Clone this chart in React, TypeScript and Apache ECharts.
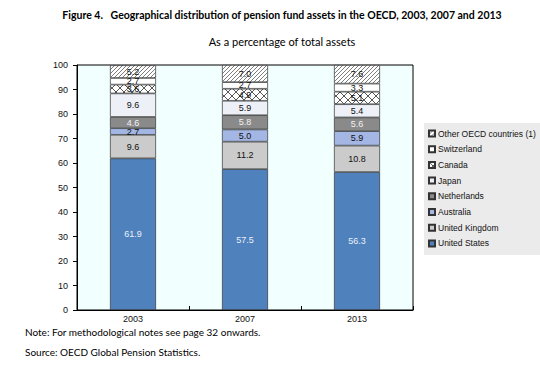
import React, { useEffect, useRef } from "react";
import * as echarts from "echarts";

const categories = ["2003", "2007", "2013"];
const unitedStates = [61.9, 57.5, 56.3];
const unitedKingdom = [9.6, 11.2, 10.8];
const australia = [2.7, 5.0, 5.9];
const netherlands = [4.6, 5.8, 5.6];
const japan = [9.6, 5.9, 5.4];
const canada = [3.6, 4.9, 5.1];
const switzerland = [2.7, 2.7, 3.3];
const otherOecd = [5.2, 7.0, 7.6];
const yTicks = { min: 0, max: 100, interval: 10 };

function makeHatch(size: number, cross: boolean, lw: number, col: string) {
  const c = document.createElement("canvas");
  c.width = size;
  c.height = size;
  const ctx = c.getContext("2d")!;
  ctx.fillStyle = "#ffffff";
  ctx.fillRect(0, 0, size, size);
  ctx.strokeStyle = col;
  ctx.lineWidth = lw;
  ctx.beginPath();
  ctx.moveTo(-1, size + 1);
  ctx.lineTo(size + 1, -1);
  ctx.moveTo(-1, 1);
  ctx.lineTo(1, -1);
  ctx.moveTo(size - 1, size + 1);
  ctx.lineTo(size + 1, size - 1);
  if (cross) {
    ctx.moveTo(-1, -1);
    ctx.lineTo(size + 1, size + 1);
    ctx.moveTo(size - 1, -1);
    ctx.lineTo(size + 1, 1);
    ctx.moveTo(-1, size - 1);
    ctx.lineTo(1, size + 1);
  }
  ctx.stroke();
  return c;
}

export default function App() {
  const ref = useRef<HTMLDivElement>(null);
  useEffect(() => {
    if (!ref.current) return;
    const chart = echarts.init(ref.current, null, { renderer: "svg" });
    const hatch = makeHatch(4, false, 0.7, "#444");
    const cross = makeHatch(8, true, 0.9, "#444");
    const hatchColor: any = { image: hatch, repeat: "repeat", imageWidth: 4, imageHeight: 4 };
    const crossColor: any = { image: cross, repeat: "repeat", imageWidth: 8, imageHeight: 8 };

    const defs: { name: string; data: number[]; color: any; label: string }[] = [
      { name: "United States", data: unitedStates, color: "#4F81BD", label: "#EAF0FA" },
      { name: "United Kingdom", data: unitedKingdom, color: "#CBCBCB", label: "#111" },
      { name: "Australia", data: australia, color: "#A3B6E4", label: "#111" },
      { name: "Netherlands", data: netherlands, color: "#8A8A8A", label: "#F2F2F2" },
      { name: "Japan", data: japan, color: "#EEF0F8", label: "#111" },
      { name: "Canada", data: canada, color: crossColor, label: "#111" },
      { name: "Switzerland", data: switzerland, color: "#FFFFFF", label: "#111" },
      { name: "Other OECD countries (1)", data: otherOecd, color: hatchColor, label: "#111" },
    ];

    const series = defs.map((d) => ({
      name: d.name,
      type: "bar",
      stack: "total",
      data: d.data,
      barWidth: 46,
      itemStyle: { color: d.color, borderColor: "#333", borderWidth: 0.7 },
      label: {
        show: true,
        position: "inside",
        color: d.label,
        fontSize: 9,
        fontFamily: "Liberation Sans, Arial",
        formatter: (p: any) => Number(p.value).toFixed(1),
      },
    }));

    chart.setOption({
      animation: false,
      textStyle: { fontFamily: "Liberation Sans, Arial" },
      grid: {
        left: 77,
        right: 127,
        top: 65,
        bottom: 56,
        show: true,
        backgroundColor: "#F2FFFF",
        borderColor: "#000",
        borderWidth: 1,
      },
      legend: {
        orient: "vertical",
        left: 424,
        top: 123,
        backgroundColor: "#EBEBEB",
        padding: [6, 6, 7, 4],
        itemWidth: 6,
        itemHeight: 6,
        itemGap: 6.7,
        borderRadius: 0,
        textStyle: { fontSize: 8.5, color: "#111", lineHeight: 9, padding: [0, 0, 0, -2] },
        data: [...defs].reverse().map((d) => ({ name: d.name, icon: "rect" })),
      },
      xAxis: {
        type: "category",
        data: categories,
        axisLine: { lineStyle: { color: "#000", width: 1 } },
        axisTick: { show: true, inside: true, length: 4, lineStyle: { color: "#000" } },
        axisLabel: { color: "#111", fontSize: 9, margin: 4 },
      },
      yAxis: {
        type: "value",
        min: yTicks.min,
        max: yTicks.max,
        interval: yTicks.interval,
        axisLine: { show: true, lineStyle: { color: "#000", width: 1 } },
        axisTick: { show: true, length: 4, lineStyle: { color: "#000" } },
        axisLabel: { color: "#111", fontSize: 9, margin: 9 },
        splitLine: { show: false },
      },
      graphic: [
        {
          type: "text",
          x: 282,
          y: 15,
          style: {
            text: "Figure 4.   Geographical distribution of pension fund assets in the OECD, 2003, 2007 and 2013",
            fontSize: 10.5,
            fontWeight: "bold",
            fontFamily: "Lato",
            fill: "#000",
            align: "center",
            verticalAlign: "middle",
          },
        },
        {
          type: "text",
          x: 282,
          y: 41,
          style: {
            text: "As a percentage of total assets",
            fontSize: 11,
            fontFamily: "Lato",
            fill: "#000",
            align: "center",
            verticalAlign: "middle",
          },
        },
        {
          type: "text",
          x: 25,
          y: 332,
          style: {
            text: "Note: For methodological notes see page 32 onwards.",
            fontSize: 10,
            fontFamily: "Lato",
            fill: "#000",
            align: "left",
            verticalAlign: "middle",
          },
        },
        {
          type: "text",
          x: 25,
          y: 352,
          style: {
            text: "Source: OECD Global Pension Statistics.",
            fontSize: 10,
            fontFamily: "Lato",
            fill: "#000",
            align: "left",
            verticalAlign: "middle",
          },
        },
      ],
      series,
    });
    return () => chart.dispose();
  }, []);
  return <div ref={ref} style={{ width: 540, height: 366, position: "absolute", left: 0, top: 0 }} />;
}
